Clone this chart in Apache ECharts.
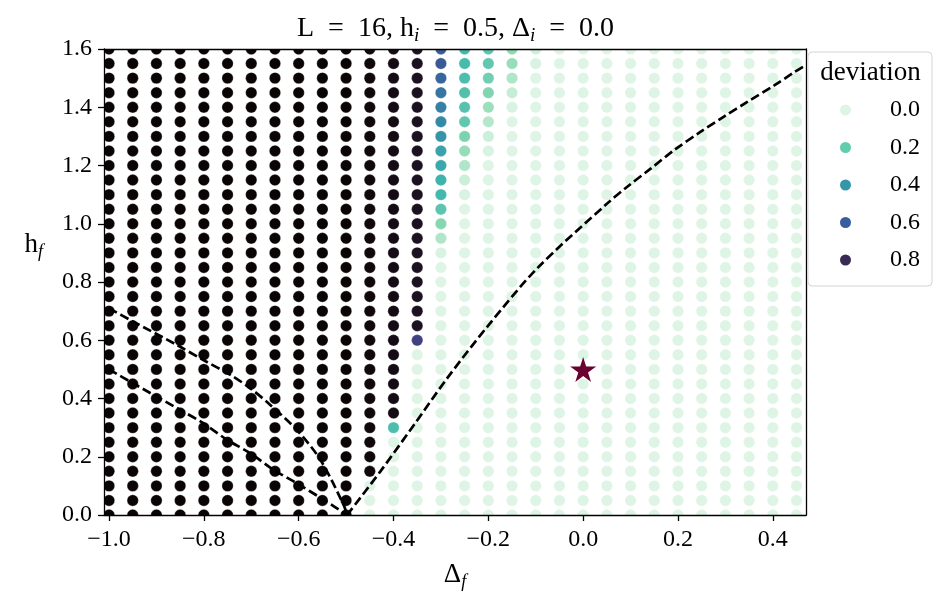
<!DOCTYPE html>
<html>
<head>
<meta charset="utf-8">
<title>deviation</title>
<script src="https://cdn.jsdelivr.net/npm/echarts@6.0.0/dist/echarts.min.js"></script>
<style>
html, body { margin: 0; padding: 0; background: #fff; }
#chart { width: 949px; height: 604px; }
</style>
</head>
<body>
<div id="chart"></div>
<script>
'use strict';

// 横轴 Δf 取值
var deltaF = [-1.0, -0.95, -0.9, -0.85, -0.8, -0.75, -0.7, -0.65, -0.6, -0.55,
    -0.5, -0.45, -0.4, -0.35, -0.3, -0.25, -0.2, -0.15, -0.1, -0.05,
    0.0, 0.05, 0.1, 0.15, 0.2, 0.25, 0.3, 0.35, 0.4, 0.45];
// 纵轴 hf 取值（从上到下）
var hF = [1.6, 1.55, 1.5, 1.45, 1.4, 1.35, 1.3, 1.25, 1.2, 1.15, 1.1, 1.05, 1.0,
    0.95, 0.9, 0.85, 0.8, 0.75, 0.7, 0.65, 0.6, 0.55, 0.5, 0.45, 0.4, 0.35,
    0.3, 0.25, 0.2, 0.15, 0.1, 0.05, 0.0];
// deviation：行对应 hF，列对应 deltaF
var deviation = [
    [1,1,1,1,1,1,1,1,1,1,1, 0.98,0.96,0.93,0.61,0.28,0.23,0.14,0.03, 0,0,0,0,0,0,0,0,0,0,0],
    [1,1,1,1,1,1,1,1,1,1,1, 0.98,0.96,0.93,0.61,0.27,0.22,0.12,0.01, 0,0,0,0,0,0,0,0,0,0,0],
    [1,1,1,1,1,1,1,1,1,1,1, 0.98,0.96,0.93,0.57,0.26,0.19,0.08,0, 0,0,0,0,0,0,0,0,0,0,0],
    [1,1,1,1,1,1,1,1,1,1,1, 0.98,0.96,0.93,0.52,0.25,0.16,0.04,0, 0,0,0,0,0,0,0,0,0,0,0],
    [1,1,1,1,1,1,1,1,1,1,1, 0.98,0.96,0.93,0.48,0.24,0.11,0.01,0, 0,0,0,0,0,0,0,0,0,0,0],
    [1,1,1,1,1,1,1,1,1,1,1, 0.98,0.96,0.93,0.45,0.22,0.07,0,0, 0,0,0,0,0,0,0,0,0,0,0],
    [1,1,1,1,1,1,1,1,1,1,1, 0.98,0.96,0.93,0.41,0.17,0.03,0,0, 0,0,0,0,0,0,0,0,0,0,0],
    [1,1,1,1,1,1,1,1,1,1,1, 0.98,0.96,0.93,0.36,0.12,0.01,0,0, 0,0,0,0,0,0,0,0,0,0,0],
    [1,1,1,1,1,1,1,1,1,1,1, 0.98,0.96,0.93,0.34,0.08,0,0,0, 0,0,0,0,0,0,0,0,0,0,0],
    [1,1,1,1,1,1,1,1,1,1,1, 0.98,0.96,0.93,0.30,0.03,0,0,0, 0,0,0,0,0,0,0,0,0,0,0],
    [1,1,1,1,1,1,1,1,1,1,1, 0.98,0.96,0.93,0.28,0.01,0,0,0, 0,0,0,0,0,0,0,0,0,0,0],
    [1,1,1,1,1,1,1,1,1,1,1, 0.98,0.96,0.93,0.23,0,0,0,0, 0,0,0,0,0,0,0,0,0,0,0],
    [1,1,1,1,1,1,1,1,1,1,1, 0.98,0.96,0.93,0.15,0,0,0,0, 0,0,0,0,0,0,0,0,0,0,0],
    [1,1,1,1,1,1,1,1,1,1,1, 0.98,0.96,0.93,0.08,0,0,0,0, 0,0,0,0,0,0,0,0,0,0,0],
    [1,1,1,1,1,1,1,1,1,1,1, 0.98,0.96,0.93,0.01,0,0,0,0, 0,0,0,0,0,0,0,0,0,0,0],
    [1,1,1,1,1,1,1,1,1,1,1, 0.98,0.96,0.93,0,0,0,0,0, 0,0,0,0,0,0,0,0,0,0,0],
    [1,1,1,1,1,1,1,1,1,1,1, 0.98,0.96,0.93,0,0,0,0,0, 0,0,0,0,0,0,0,0,0,0,0],
    [1,1,1,1,1,1,1,1,1,1,1, 0.98,0.96,0.93,0,0,0,0,0, 0,0,0,0,0,0,0,0,0,0,0],
    [1,1,1,1,1,1,1,1,1,1,1, 0.98,0.96,0.93,0,0,0,0,0, 0,0,0,0,0,0,0,0,0,0,0],
    [1,1,1,1,1,1,1,1,1,1,1, 0.98,0.96,0.93,0,0,0,0,0, 0,0,0,0,0,0,0,0,0,0,0],
    [1,1,1,1,1,1,1,1,1,1,1, 0.98,0.96,0.70,0,0,0,0,0, 0,0,0,0,0,0,0,0,0,0,0],
    [1,1,1,1,1,1,1,1,1,1,1, 0.98,0.96,0,0,0,0,0,0, 0,0,0,0,0,0,0,0,0,0,0],
    [1,1,1,1,1,1,1,1,1,1,1, 0.98,0.96,0,0,0,0,0,0, 0,0,0,0,0,0,0,0,0,0,0],
    [1,1,1,1,1,1,1,1,1,1,1, 0.98,0.96,0,0,0,0,0,0, 0,0,0,0,0,0,0,0,0,0,0],
    [1,1,1,1,1,1,1,1,1,1,1, 0.98,0.96,0,0,0,0,0,0, 0,0,0,0,0,0,0,0,0,0,0],
    [1,1,1,1,1,1,1,1,1,1,1, 0.98,0.96,0,0,0,0,0,0, 0,0,0,0,0,0,0,0,0,0,0],
    [1,1,1,1,1,1,1,1,1,1,1, 0.98,0.26,0,0,0,0,0,0, 0,0,0,0,0,0,0,0,0,0,0],
    [1,1,1,1,1,1,1,1,1,1,1, 0.98,0,0,0,0,0,0,0, 0,0,0,0,0,0,0,0,0,0,0],
    [1,1,1,1,1,1,1,1,1,1,1, 0.98,0,0,0,0,0,0,0, 0,0,0,0,0,0,0,0,0,0,0],
    [1,1,1,1,1,1,1,1,1,1,1, 0.98,0,0,0,0,0,0,0, 0,0,0,0,0,0,0,0,0,0,0],
    [1,1,1,1,1,1,1,1,1,1,1, 0,0,0,0,0,0,0,0, 0,0,0,0,0,0,0,0,0,0,0],
    [1,1,1,1,1,1,1,1,1,1,1, 0,0,0,0,0,0,0,0, 0,0,0,0,0,0,0,0,0,0,0],
    [1,1,1,1,1,1,1,1,1,1,1, 0,0,0,0,0,0,0,0, 0,0,0,0,0,0,0,0,0,0,0]
];

// 虚线（读图所得）
var boundaryRight = [[-0.498, 0.0], [-0.428, 0.149], [-0.357, 0.309], [-0.287, 0.469],
    [-0.202, 0.647], [-0.097, 0.847], [0.051, 1.07], [0.093, 1.127], [0.143, 1.19],
    [0.192, 1.253], [0.248, 1.316], [0.297, 1.368], [0.347, 1.419], [0.403, 1.475],
    [0.445, 1.52], [0.47, 1.545]];
var boundaryUpper = [[-1.0, 0.71], [-0.949, 0.664], [-0.857, 0.584], [-0.801, 0.532],
    [-0.744, 0.481], [-0.702, 0.435], [-0.66, 0.378], [-0.604, 0.292], [-0.554, 0.189],
    [-0.505, 0.034], [-0.498, 0.0]];
var boundaryLower = [[-1.0, 0.5], [-0.949, 0.452], [-0.85, 0.361], [-0.801, 0.315],
    [-0.751, 0.258], [-0.702, 0.212], [-0.653, 0.155], [-0.604, 0.109], [-0.547, 0.052],
    [-0.498, 0.0]];

// 初始点
var initialPoint = [[0.0, 0.5]];

// 刻度
var xTicks = [-1.0, -0.8, -0.6, -0.4, -0.2, 0.0, 0.2, 0.4];
var yTicks = [0.0, 0.2, 0.4, 0.6, 0.8, 1.0, 1.2, 1.4, 1.6];

// 图例
var legendLabels = ['0.0', '0.2', '0.4', '0.6', '0.8'];
var legendColors = ['#def5e5', '#60ceac', '#3497a9', '#395d9c', '#382a54'];

// mako_r 色带
var makoR = ['#DEF5E5', '#8AD9B1', '#40B7AD', '#348FA7', '#37659E', '#413D7B', '#2E1E3C', '#0B0405'];

var FONT = "'Liberation Serif', serif";
var starPath = 'path://M50,0 L61,35 L98,35 L68,57 L79,91 L50,70 L21,91 L32,57 L2,35 L39,35 Z';
var SP = '\u2002';

var dots = [];
for (var i = 0; i < hF.length; i++) {
    for (var j = 0; j < deltaF.length; j++) {
        dots.push([deltaF[j], hF[i], deviation[i][j]]);
    }
}

function fmt(v) {
    var s = Math.abs(v).toFixed(1);
    return v < -1e-9 ? '\u2212' + s : s;
}

var subRich = {
    n: { fontFamily: FONT, fontSize: 27, fontWeight: 'normal', color: '#000', lineHeight: 32 },
    s: { fontFamily: FONT, fontSize: 18, fontWeight: 'normal', fontStyle: 'italic', color: '#000', lineHeight: 18, verticalAlign: 'bottom' }
};

var chart = echarts.init(document.getElementById('chart'));

var series = [{
    type: 'custom',
    name: 'dots',
    dimensions: ['df', 'hf', 'dev'],
    encode: { x: 0, y: 1 },
    data: dots,
    clip: true,
    z: 2,
    silent: true,
    renderItem: function (params, api) {
        var p = api.coord([api.value(0), api.value(1)]);
        return {
            type: 'circle',
            shape: { cx: p[0], cy: p[1], r: 5.7 },
            style: { fill: api.visual('color'), stroke: '#fff', lineWidth: 0.3 }
        };
    }
}];

[boundaryRight, boundaryUpper, boundaryLower].forEach(function (d) {
    series.push({
        type: 'line',
        data: d,
        smooth: 0.3,
        showSymbol: false,
        symbol: 'none',
        clip: true,
        silent: true,
        z: 4,
        lineStyle: { color: '#000', width: 2.7, type: [9, 4] }
    });
});

series.push({
    type: 'scatter',
    data: initialPoint,
    symbol: starPath,
    symbolSize: [26, 25],
    itemStyle: { color: '#6b0032', opacity: 1 },
    z: 5,
    silent: true
});

legendLabels.forEach(function (name, k) {
    series.push({
        type: 'scatter',
        name: name,
        data: [],
        itemStyle: { color: legendColors[k], opacity: 1 }
    });
});

var option = {
    animation: false,
    backgroundColor: '#fff',
    title: {
        text: '{n|L' + SP + '=' + SP + '16, h}{s|i}{n|' + SP + '=' + SP + '0.5, \u0394}{s|i}{n|' + SP + '=' + SP + '0.0}',
        left: 297,
        top: 13,
        padding: 0,
        textStyle: {
            fontWeight: 'normal',
            rich: {
                n: { fontFamily: FONT, fontSize: 28, fontWeight: 'normal', color: '#000', lineHeight: 32 },
                s: { fontFamily: FONT, fontSize: 19, fontWeight: 'normal', fontStyle: 'italic', color: '#000', lineHeight: 18, verticalAlign: 'bottom' }
            }
        }
    },
    grid: { left: 104, right: 143, top: 49, bottom: 89, containLabel: false },
    xAxis: [{
        type: 'value',
        min: -1.0106,
        max: 0.47,
        z: 3,
        name: '{n|\u0394}{s|f}',
        nameLocation: 'middle',
        nameGap: 44,
        nameTextStyle: { rich: subRich },
        axisLine: { show: true, onZero: false, lineStyle: { color: '#000', width: 1.3 } },
        axisTick: { show: true, customValues: xTicks, length: 6, lineStyle: { color: '#000', width: 1.3 } },
        axisLabel: {
            customValues: xTicks, formatter: fmt, margin: 13,
            fontFamily: FONT, fontSize: 24, color: '#000', lineHeight: 24
        },
        splitLine: { show: false }
    }, {
        type: 'value',
        position: 'top',
        min: -1.0106,
        max: 0.47,
        z: 3,
        axisLine: { show: true, onZero: false, lineStyle: { color: '#000', width: 1.3 } },
        axisTick: { show: false },
        axisLabel: { show: false },
        splitLine: { show: false }
    }],
    yAxis: [{
        type: 'value',
        min: 0,
        max: 1.6,
        z: 3,
        name: '{n|h}{s|f}',
        nameLocation: 'middle',
        nameRotate: 0,
        nameGap: 61,
        nameTextStyle: { rich: subRich, align: 'right', verticalAlign: 'middle', padding: [0, 0, 74, 0] },
        axisLine: { show: true, onZero: false, lineStyle: { color: '#000', width: 1.3 } },
        axisTick: { show: true, customValues: yTicks, length: 6, lineStyle: { color: '#000', width: 1.3 } },
        axisLabel: {
            customValues: yTicks, formatter: fmt, margin: 12,
            fontFamily: FONT, fontSize: 24, color: '#000'
        },
        splitLine: { show: false }
    }, {
        type: 'value',
        position: 'right',
        min: 0,
        max: 1.6,
        z: 3,
        axisLine: { show: true, onZero: false, lineStyle: { color: '#000', width: 1.3 } },
        axisTick: { show: false },
        axisLabel: { show: false },
        splitLine: { show: false }
    }],
    visualMap: {
        type: 'continuous',
        show: false,
        seriesIndex: 0,
        dimension: 2,
        min: 0,
        max: 1,
        inRange: { color: makoR }
    },
    legend: {
        data: legendLabels,
        orient: 'vertical',
        left: 808,
        top: 52,
        padding: [46, 12, 14, 32],
        itemGap: 13.5,
        itemWidth: 11,
        itemHeight: 11,
        icon: 'circle',
        backgroundColor: '#fff',
        borderColor: '#d4d4d4',
        borderWidth: 1,
        borderRadius: 4,
        z: 10,
        selectedMode: false,
        textStyle: { fontFamily: FONT, fontSize: 24, color: '#000', lineHeight: 24, padding: [0, 0, 0, 34] }
    },
    graphic: [{
        type: 'text',
        x: 870.5,
        y: 73,
        z: 20,
        style: {
            text: 'deviation',
            font: "27px 'Liberation Serif', serif",
            fill: '#000',
            textAlign: 'center',
            textVerticalAlign: 'middle'
        }
    }],
    series: series
};

chart.setOption(option);
</script>
</body>
</html>
